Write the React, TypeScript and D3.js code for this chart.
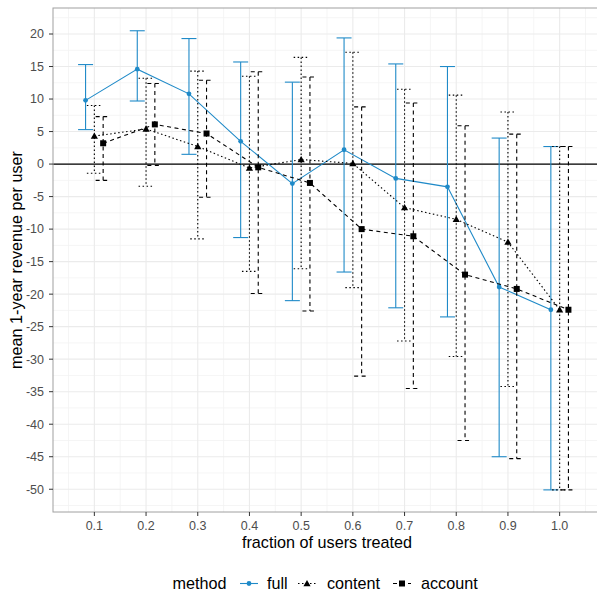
import React from "react";
import * as d3 from "d3";

// Fraction of users treated (x categories)
const fractions = [0.1, 0.2, 0.3, 0.4, 0.5, 0.6, 0.7, 0.8, 0.9, 1.0];

// Mean 1-year revenue per user and 95% interval for each method
const fullMean = [9.8, 14.6, 10.8, 3.5, -3.0, 2.2, -2.2, -3.5, -18.9, -22.4];
const fullUpper = [15.3, 20.5, 19.3, 15.7, 12.6, 19.4, 15.4, 15.0, 4.0, 2.7];
const fullLower = [5.3, 9.7, 1.5, -11.3, -21.0, -16.6, -22.1, -23.5, -45.0, -50.1];

const contentMean = [4.3, 5.4, 2.7, -0.6, 0.7, 0.1, -6.7, -8.5, -12.0, -22.4];
const contentUpper = [9.0, 13.2, 14.3, 13.5, 16.4, 17.2, 11.5, 10.6, 8.0, 2.7];
const contentLower = [-1.4, -3.4, -11.5, -16.5, -16.1, -19.0, -27.2, -29.6, -34.2, -50.1];

const accountMean = [3.2, 6.1, 4.7, -0.5, -2.9, -10.0, -11.1, -17.0, -19.2, -22.4];
const accountUpper = [7.3, 12.4, 12.9, 14.2, 13.4, 8.8, 9.4, 5.9, 4.6, 2.7];
const accountLower = [-2.5, -0.2, -5.1, -19.9, -22.6, -32.6, -34.5, -42.5, -45.3, -50.1];

const yTicks = d3.range(-50, 21, 5);
const yMinor = d3.range(-52.5, 23, 5);
const xMinor = d3.range(0.05, 1.06, 0.1);

type Method = {
  name: string;
  mean: number[];
  upper: number[];
  lower: number[];
  color: string;
  dash: string | undefined;
  shape: "circle" | "triangle" | "square";
  offset: number;
};

const BLUE = "#1F8AC8";

const methods: Method[] = [
  { name: "full", mean: fullMean, upper: fullUpper, lower: fullLower, color: BLUE, dash: undefined, shape: "circle", offset: -0.017 },
  { name: "content", mean: contentMean, upper: contentUpper, lower: contentLower, color: "#000", dash: "1.5 2.5", shape: "triangle", offset: 0 },
  { name: "account", mean: accountMean, upper: accountUpper, lower: accountLower, color: "#000", dash: "4 3.5", shape: "square", offset: 0.017 },
];

const W = 597;
const H = 593;
const panel = { left: 53, top: 8, right: 601, bottom: 512 };

const x = d3.scaleLinear().domain([0.02, 1.08]).range([panel.left, panel.right]);
const y = d3.scaleLinear().domain([-53.5, 24]).range([panel.bottom, panel.top]);

const CAP = 0.0145;
const TICK_FONT = 12.5;
const TITLE_FONT = 16.2;

function Marker({ shape, cx, cy, color }: { shape: string; cx: number; cy: number; color: string }) {
  if (shape === "circle") return <circle cx={cx} cy={cy} r={2.4} fill={color} />;
  if (shape === "triangle") {
    const s = 3.6;
    return <path d={`M${cx},${cy - s} L${cx + s},${cy + s * 0.75} L${cx - s},${cy + s * 0.75}Z`} fill={color} />;
  }
  return <rect x={cx - 3} y={cy - 3} width={6} height={6} fill={color} />;
}

export default function App() {
  const line = (m: Method) =>
    d3
      .line<number>()
      .x((_, i) => x(fractions[i] + m.offset))
      .y((v) => y(v))(m.mean) as string;

  const legendItems = [
    { m: methods[0], kx: 240, tx: 267 },
    { m: methods[1], kx: 298, tx: 327 },
    { m: methods[2], kx: 393, tx: 421 },
  ];
  const legendY = 583.5;

  return (
    <div style={{ position: "absolute", left: 0, top: 0 }}>
      <svg width={W} height={H} style={{ display: "block", background: "#fff", fontFamily: "Liberation Sans, Arial, sans-serif" }}>
        <defs>
          <clipPath id="panel-clip">
            <rect x={panel.left} y={panel.top} width={panel.right - panel.left} height={panel.bottom - panel.top} />
          </clipPath>
        </defs>
        <rect x={panel.left} y={panel.top} width={panel.right - panel.left} height={panel.bottom - panel.top} fill="#fff" />
        {/* minor grid */}
        {yMinor.map((t) => (
          <line key={"ym" + t} x1={panel.left} x2={panel.right} y1={y(t)} y2={y(t)} stroke="#F2F2F2" strokeWidth={0.8} />
        ))}
        {xMinor.map((t) => (
          <line key={"xm" + t} y1={panel.top} y2={panel.bottom} x1={x(t)} x2={x(t)} stroke="#F2F2F2" strokeWidth={0.8} />
        ))}
        {/* major grid */}
        {yTicks.map((t) => (
          <line key={"yg" + t} x1={panel.left} x2={panel.right} y1={y(t)} y2={y(t)} stroke="#EBEBEB" strokeWidth={1.1} />
        ))}
        {fractions.map((t) => (
          <line key={"xg" + t} y1={panel.top} y2={panel.bottom} x1={x(t)} x2={x(t)} stroke="#EBEBEB" strokeWidth={1.1} />
        ))}
        {/* zero reference */}
        <line x1={panel.left} x2={panel.right} y1={y(0)} y2={y(0)} stroke="#000" strokeWidth={1.1} />

        <g clipPath="url(#panel-clip)">
          {methods.map((m) => (
            <g key={m.name}>
              {fractions.map((f, i) => {
                const cx = x(f + m.offset);
                return (
                  <g key={i} stroke={m.color} strokeWidth={1.1} strokeDasharray={m.dash} fill="none">
                    <line x1={cx} x2={cx} y1={y(m.upper[i])} y2={y(m.lower[i])} />
                    <line x1={x(f + m.offset - CAP)} x2={x(f + m.offset + CAP)} y1={y(m.upper[i])} y2={y(m.upper[i])} />
                    <line x1={x(f + m.offset - CAP)} x2={x(f + m.offset + CAP)} y1={y(m.lower[i])} y2={y(m.lower[i])} />
                  </g>
                );
              })}
              <path d={line(m)} fill="none" stroke={m.color} strokeWidth={1.1} strokeDasharray={m.dash} />
              {fractions.map((f, i) => (
                <Marker key={"p" + i} shape={m.shape} cx={x(f + m.offset)} cy={y(m.mean[i])} color={m.color} />
              ))}
            </g>
          ))}
        </g>

        {/* panel border */}
        <rect x={panel.left} y={panel.top} width={panel.right - panel.left} height={panel.bottom - panel.top} fill="none" stroke="#A0A0A0" strokeWidth={1} />

        {/* y axis */}
        {yTicks.map((t) => (
          <g key={"yt" + t}>
            <line x1={panel.left - 4} x2={panel.left} y1={y(t)} y2={y(t)} stroke="#333" strokeWidth={1} />
            <text x={panel.left - 9} y={y(t)} dy="0.35em" textAnchor="end" fontSize={TICK_FONT} fill="#4D4D4D">
              {t}
            </text>
          </g>
        ))}
        {/* x axis */}
        {fractions.map((t) => (
          <g key={"xt" + t}>
            <line x1={x(t)} x2={x(t)} y1={panel.bottom} y2={panel.bottom + 4} stroke="#333" strokeWidth={1} />
            <text x={x(t)} y={panel.bottom + 17.5} textAnchor="middle" fontSize={TICK_FONT} fill="#4D4D4D">
              {t.toFixed(1)}
            </text>
          </g>
        ))}

        <text x={(panel.left + panel.right) / 2} y={548} textAnchor="middle" fontSize={TITLE_FONT} fill="#000">
          fraction of users treated
        </text>
        <text
          transform={`translate(22,${(panel.top + panel.bottom) / 2}) rotate(-90)`}
          textAnchor="middle"
          fontSize={TITLE_FONT}
          fill="#000"
        >
          mean 1-year revenue per user
        </text>

        {/* legend */}
        <text x={172.5} y={legendY} dy="0.35em" fontSize={TITLE_FONT} fill="#000">
          method
        </text>
        {legendItems.map(({ m, kx, tx }) => (
          <g key={"lg" + m.name}>
            <line x1={kx} x2={kx + 18} y1={legendY} y2={legendY} stroke={m.color} strokeWidth={1.1} strokeDasharray={m.dash} />
            <Marker shape={m.shape} cx={kx + 9} cy={legendY} color={m.color} />
            <text x={tx} y={legendY} dy="0.35em" fontSize={TITLE_FONT} fill="#000">
              {m.name}
            </text>
          </g>
        ))}
      </svg>
    </div>
  );
}
